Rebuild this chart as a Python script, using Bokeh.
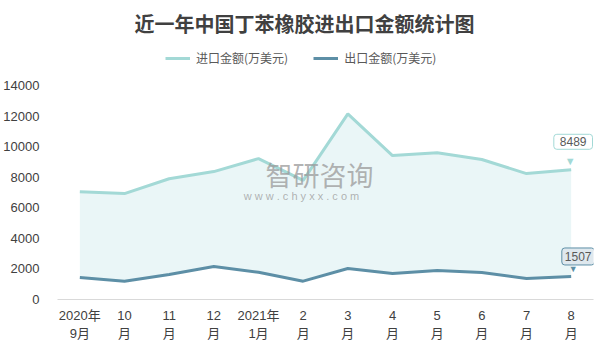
from bokeh.plotting import figure
from bokeh.models import FactorRange, Range1d, FixedTicker, ColumnDataSource, Legend, LegendItem, Label
from bokeh.embed import file_html
from bokeh.resources import INLINE
from bokeh.core.properties import value

chart_title = "近一年中国丁苯橡胶进出口金额统计图"
months = ["2020年\n9月", "10\n月", "11\n月", "12\n月", "2021年\n1月", "2\n月",
          "3\n月", "4\n月", "5\n月", "6\n月", "7\n月", "8\n月"]
imports = [7050, 6930, 7900, 8370, 9220, 7800, 12150, 9420, 9600, 9160, 8240, 8489]
exports = [1440, 1190, 1640, 2160, 1780, 1200, 2030, 1700, 1900, 1770, 1370, 1507]
y_ticks = [0, 2000, 4000, 6000, 8000, 10000, 12000, 14000]
series_names = ["进口金额(万美元)", "出口金额(万美元)"]

FONT = "'Liberation Sans', 'Noto Sans CJK SC', sans-serif"
CJK = "'Noto Sans CJK SC', sans-serif"
IMP_C = "#a3d9d6"
EXP_C = "#5d8fa6"

# frame extends above the last tick to leave room for the legend
p = figure(width=605, height=364, x_range=FactorRange(*months),
           y_range=Range1d(0, 16950), output_backend="svg", toolbar_location=None,
           min_border_left=56, min_border_right=12, min_border_bottom=65, min_border_top=40)

p.title.text = chart_title
p.title.align = "left"
p.title.offset = 77
p.title.standoff = 6
p.title.text_font = CJK
p.title.text_font_size = "20px"
p.title.text_font_style = "bold"
p.title.text_color = "#404040"

src = ColumnDataSource(dict(x=months, imp=imports, exp=exports))
p.varea(x="x", y1="exp", y2="imp", source=src, fill_color="#eaf6f7")
r1 = p.line("x", "imp", source=src, line_color=IMP_C, line_width=3)
r2 = p.line("x", "exp", source=src, line_color=EXP_C, line_width=3)

# watermark
p.add_layout(Label(x=262, y=125, x_units="screen", y_units="screen", text="智研咨询",
                   text_font=CJK, text_font_size="27px", text_color="#9a9a9a", text_alpha=0.75,
                   text_align="center", text_baseline="middle"))
p.add_layout(Label(x=244, y=104, x_units="screen", y_units="screen", text="w w w . c h y x x . c o m",
                   text_font=FONT, text_font_size="11px", text_color="#9a9a9a", text_alpha=0.75,
                   text_align="center", text_baseline="middle"))

# callouts on last points
last_imp = ColumnDataSource(dict(x=[months[-1]], y=[imports[-1]], t=[str(imports[-1])]))
last_exp = ColumnDataSource(dict(x=[months[-1]], y=[exports[-1]], t=[str(exports[-1])]))
p.text("x", "y", text=value("▼"), source=last_imp, x_offset=-1, y_offset=-9, text_align="center",
       text_baseline="middle", text_color=IMP_C, text_font_size="11px")
p.text("x", "y", text="t", source=last_imp, x_offset=2, y_offset=-28, text_align="center",
       text_baseline="middle", text_color="#595959", text_font=value(FONT), text_font_size="12px",
       background_fill_color="#ffffff", border_line_color=IMP_C, padding=(6, 3), border_radius=3)
p.text("x", "y", text=value("▼"), source=last_exp, x_offset=2, y_offset=-7, text_align="center",
       text_baseline="middle", text_color=EXP_C, text_font_size="9px")
p.text("x", "y", text="t", source=last_exp, x_offset=7, y_offset=-20, text_align="center",
       text_baseline="middle", text_color="#595959", text_font=value(FONT), text_font_size="12px",
       background_fill_color="#dfe8ee", border_line_color=EXP_C, padding=(3, 4), border_radius=3)

legend = Legend(items=[LegendItem(label=series_names[0], renderers=[r1]),
                       LegendItem(label=series_names[1], renderers=[r2])],
                orientation="horizontal", location=(108, 233),
                label_text_font=CJK, label_text_font_size="12px", label_text_color="#595959",
                glyph_width=25, glyph_height=16, label_height=16, label_standoff=6, spacing=25,
                border_line_color=None, background_fill_alpha=0, padding=0, margin=0)
p.add_layout(legend)

p.xgrid.visible = False
p.ygrid.visible = False
p.outline_line_color = None

p.yaxis.ticker = FixedTicker(ticks=y_ticks)
p.yaxis.axis_line_color = None
p.yaxis.major_tick_line_color = None
p.yaxis.minor_tick_line_color = None
p.yaxis.major_tick_out = 0
p.yaxis.major_tick_in = 0
p.yaxis.major_label_standoff = 18
p.yaxis.major_label_text_font = FONT
p.yaxis.major_label_text_font_size = "13px"
p.yaxis.major_label_text_color = "#404040"

p.xaxis.axis_line_color = "#d9d9d9"
p.xaxis.major_tick_line_color = None
p.xaxis.minor_tick_line_color = None
p.xaxis.major_tick_out = 0
p.xaxis.major_tick_in = 0
p.xaxis.major_label_standoff = 8
p.xaxis.major_label_text_font = FONT
p.xaxis.major_label_text_font_size = "13px"
p.xaxis.major_label_text_color = "#404040"

open("out.html", "w").write(file_html(p, INLINE))
